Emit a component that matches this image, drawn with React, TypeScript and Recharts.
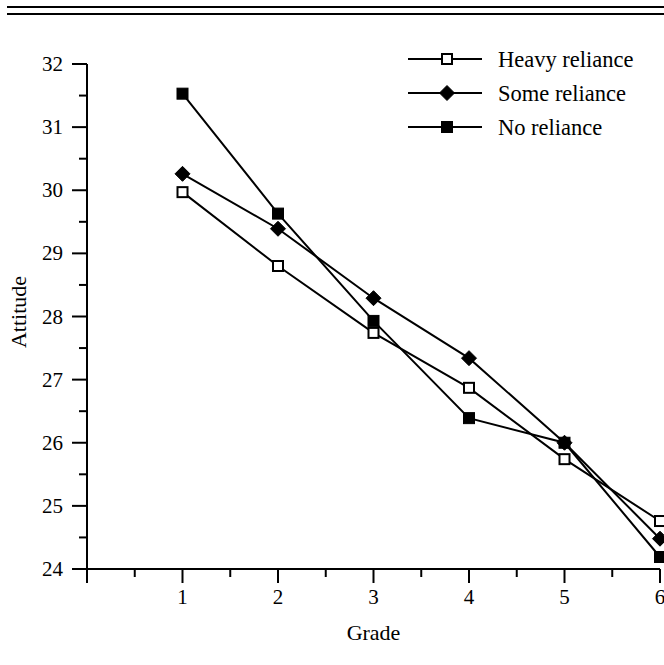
import React from 'react';
import { LineChart, Line, XAxis, YAxis, Legend } from 'recharts';

const grades = [1, 2, 3, 4, 5, 6];
const heavyReliance = [29.97, 28.8, 27.74, 26.87, 25.74, 24.76];
const someReliance = [30.26, 29.39, 28.29, 27.34, 26.0, 24.48];
const noReliance = [31.53, 29.63, 27.93, 26.39, 26.0, 24.19];

const xTicks = [0, 0.5, 1, 1.5, 2, 2.5, 3, 3.5, 4, 4.5, 5, 5.5, 6];
const yTicks = [24, 24.5, 25, 25.5, 26, 26.5, 27, 27.5, 28, 28.5, 29, 29.5, 30, 30.5, 31, 31.5, 32];

const seriesNames = ['Heavy reliance', 'Some reliance', 'No reliance'];
const seriesKeys = ['heavy', 'some', 'none'];
const seriesShapes = ['openSquare', 'diamond', 'filledSquare'];

const data = grades.map((g, i) => ({
  grade: g,
  heavy: heavyReliance[i],
  some: someReliance[i],
  none: noReliance[i],
}));

const FONT = '"Liberation Serif", serif';

function Marker({ shape, cx, cy }: { shape: string; cx: number; cy: number }) {
  if (cx == null || cy == null) return null;
  if (shape === 'openSquare') {
    return <rect x={cx - 5} y={cy - 5} width={10} height={10} fill="#fff" stroke="#000" strokeWidth={2} />;
  }
  if (shape === 'filledSquare') {
    return <rect x={cx - 5.5} y={cy - 5.5} width={11} height={11} fill="#000" stroke="#000" strokeWidth={1} />;
  }
  return (
    <polygon
      points={`${cx},${cy - 7.5} ${cx + 7.5},${cy} ${cx},${cy + 7.5} ${cx - 7.5},${cy}`}
      fill="#000"
      stroke="#000"
      strokeWidth={1}
    />
  );
}

const XTick = (props: any) => {
  const { x, y, payload } = props;
  const v = payload.value;
  const major = Number.isInteger(v);
  return (
    <g>
      <line x1={x} x2={x} y1={y} y2={y + (major ? 14 : 8)} stroke="#000" strokeWidth={2} />
      {major && v > 0 ? (
        <text x={x} y={y + 28} textAnchor="middle" dominantBaseline="central" fontFamily={FONT} fontSize={21} fill="#000">
          {v}
        </text>
      ) : null}
    </g>
  );
};

const YTick = (props: any) => {
  const { x, y, payload } = props;
  const v = payload.value;
  const major = Number.isInteger(v);
  return (
    <g>
      <line x1={x - (major ? 15 : 8)} x2={x} y1={y} y2={y} stroke="#000" strokeWidth={2} />
      {major ? (
        <text x={x - 24} y={y} textAnchor="end" dominantBaseline="central" fontFamily={FONT} fontSize={21} fill="#000">
          {v}
        </text>
      ) : null}
    </g>
  );
};

const LegendContent = () => (
  <svg width={264} height={110} style={{ display: 'block' }}>
    {seriesNames.map((name, i) => {
      const cy = 17 + i * 34;
      return (
        <g key={name}>
          <line x1={8} x2={82} y1={cy} y2={cy} stroke="#000" strokeWidth={2} />
          <Marker shape={seriesShapes[i]} cx={47} cy={cy} />
          <text x={98} y={cy} dominantBaseline="central" fontFamily={FONT} fontSize={22.5} fill="#000">
            {name}
          </text>
        </g>
      );
    })}
  </svg>
);

export default function App() {
  return (
    <div style={{ position: 'absolute', left: 0, top: 0, width: 664, height: 665, background: '#fff' }}>
      <div
        style={{
          position: 'absolute',
          left: 7,
          top: 6,
          width: 657,
          height: 5,
          borderTop: '2px solid #000',
          borderBottom: '2px solid #000',
        }}
      />
      <LineChart width={664} height={665} data={data} margin={{ top: 64, right: 4, bottom: 0, left: 0 }}>
        <XAxis
          dataKey="grade"
          type="number"
          domain={[0, 6]}
          ticks={xTicks}
          interval={0}
          height={96}
          tickSize={0}
          tickMargin={0}
          tickLine={false}
          stroke="#000"
          strokeWidth={2}
          tick={<XTick />}
          label={{
            content: (p: any) => {
              const vb = p.viewBox;
              return (
                <text x={vb.x + vb.width / 2} y={vb.y + 63} textAnchor="middle" dominantBaseline="central" fontFamily={FONT} fontSize={22} fill="#000">
                  Grade
                </text>
              );
            },
          }}
        />
        <YAxis
          type="number"
          domain={[24, 32]}
          ticks={yTicks}
          interval={0}
          width={87}
          tickSize={0}
          tickMargin={0}
          tickLine={false}
          stroke="#000"
          strokeWidth={2}
          tick={<YTick />}
          label={{
            content: () => (
              <text x={18} y={312} transform="rotate(-90 18 312)" textAnchor="middle" dominantBaseline="central" fontFamily={FONT} fontSize={22} fill="#000">
                Attitude
              </text>
            ),
          }}
        />
        <Legend
          layout="vertical"
          align="center"
          verticalAlign="middle"
          wrapperStyle={{ position: 'absolute', left: 400, top: 42, width: 264, height: 110 }}
          content={<LegendContent />}
        />
        {seriesKeys.map((k, i) => (
          <Line
            key={k}
            dataKey={k}
            name={seriesNames[i]}
            type="linear"
            stroke="#000"
            strokeWidth={2}
            isAnimationActive={false}
            dot={(p: any) => <Marker key={`${k}-${p.index}`} shape={seriesShapes[i]} cx={p.cx} cy={p.cy} />}
            activeDot={false}
          />
        ))}
      </LineChart>
    </div>
  );
}
